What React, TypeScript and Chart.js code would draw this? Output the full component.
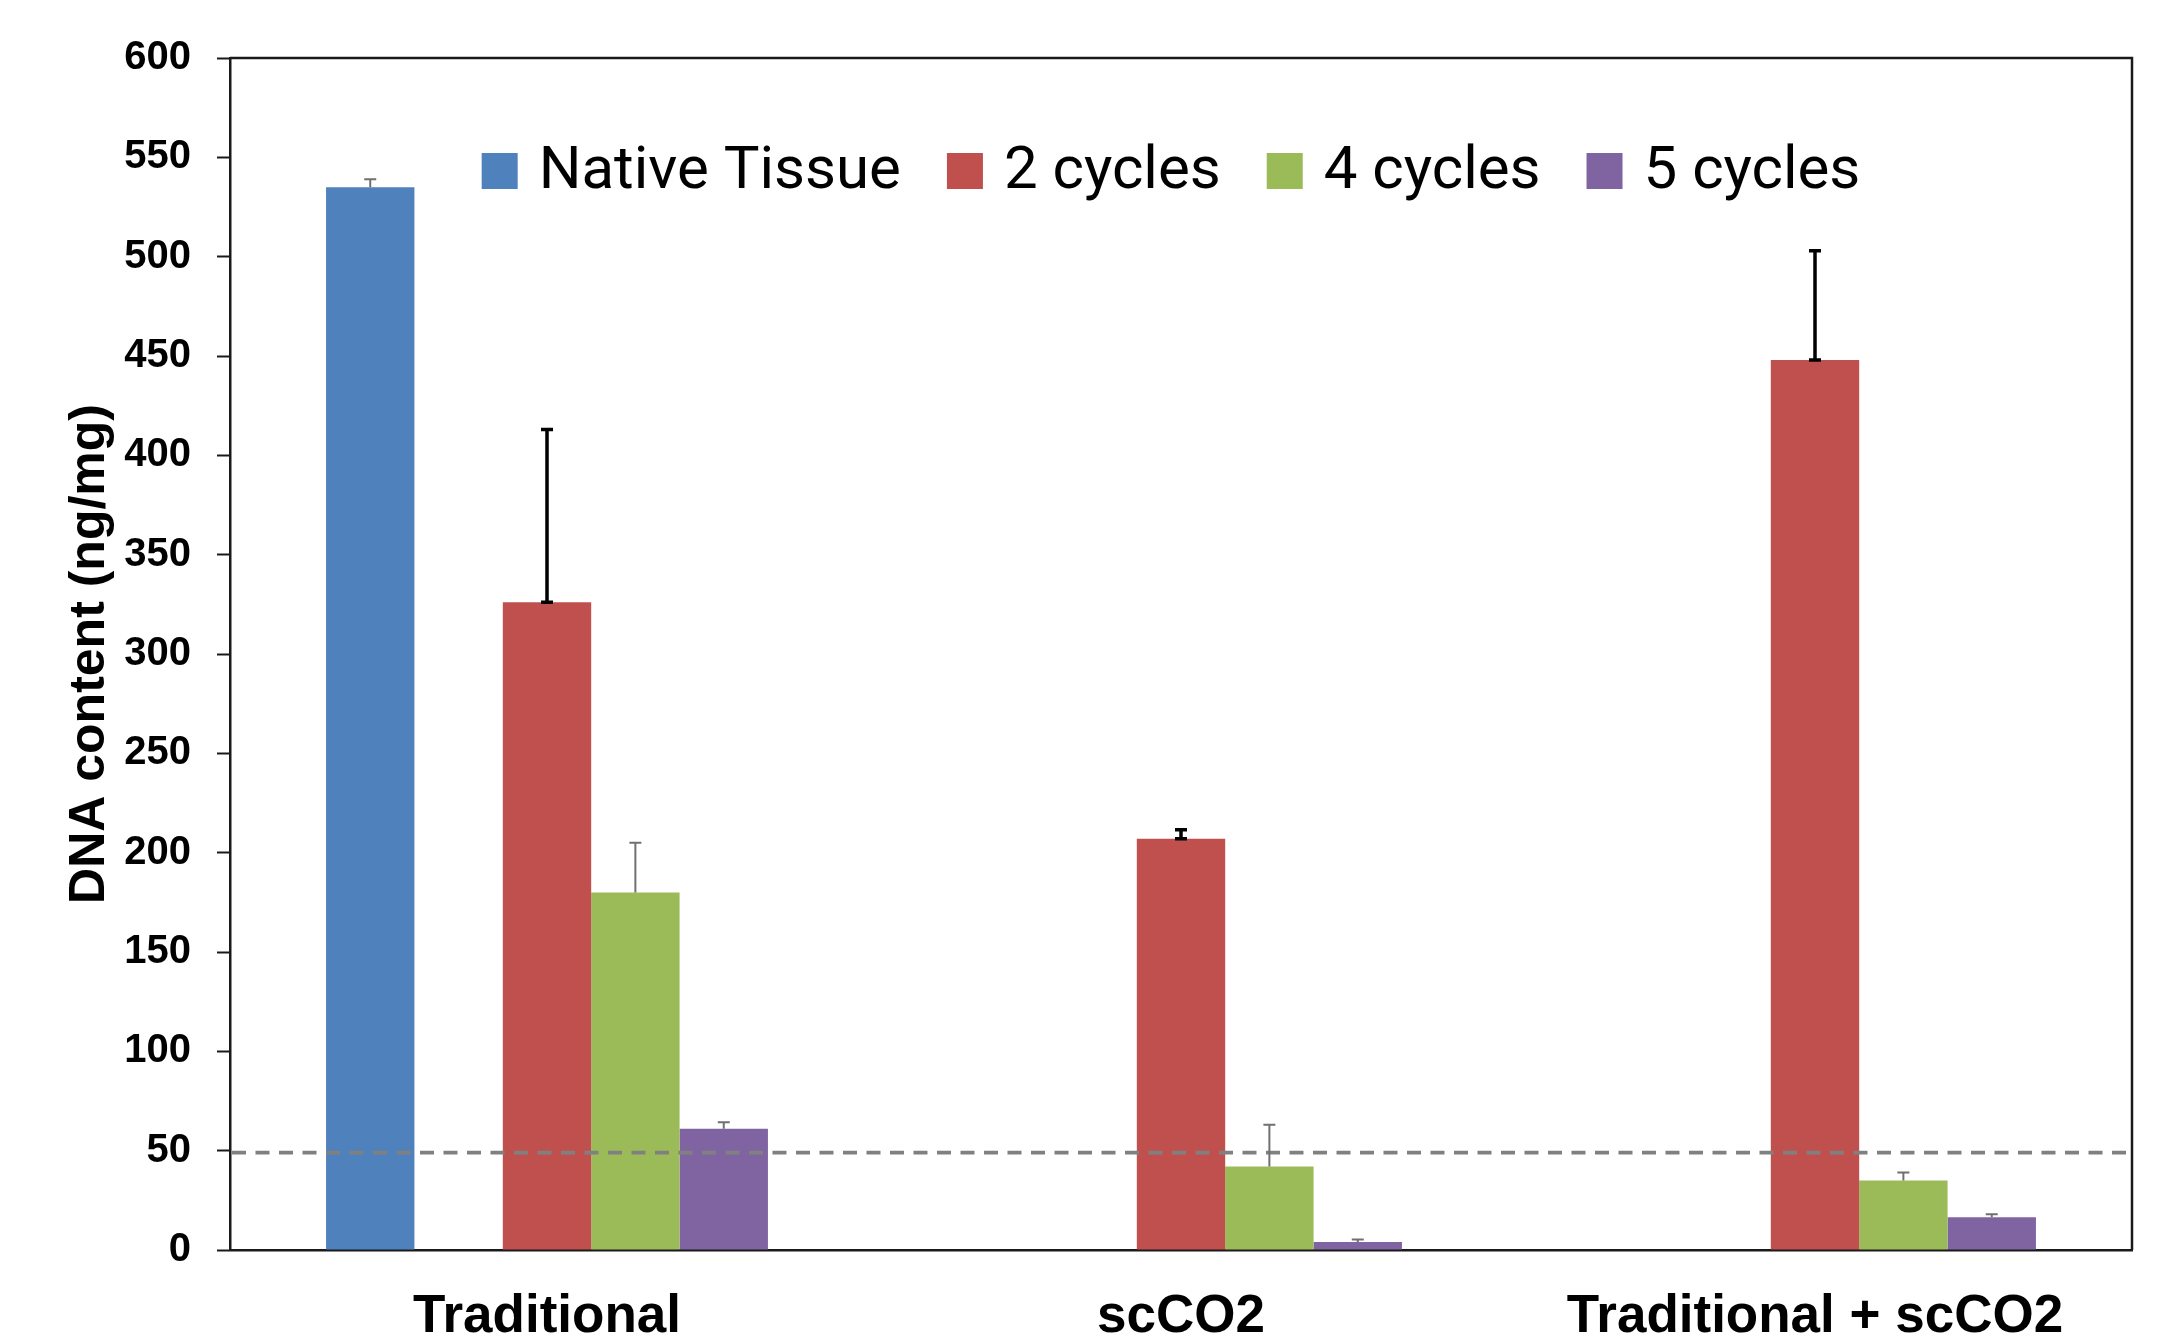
import { useEffect, useRef } from 'react';
import { Chart, registerables } from 'chart.js';

Chart.register(...registerables);

// ---- data ----
const categories = ['Traditional', 'scCO2', 'Traditional + scCO2'];
const seriesNames = ['Native Tissue', '2 cycles', '4 cycles', '5 cycles'];
const nativeTissue = [535, null, null];
const nativeTissueErr = [4, 0, 0];
const cycles2 = [326, 207, 448];
const cycles2Err = [87, 4.5, 55];
const cycles4 = [180, 42, 35];
const cycles4Err = [25, 21, 4];
const cycles5 = [61, 4, 16.5];
const cycles5Err = [3.3, 1.3, 1.5];
const thresholdValue = 49;
const yMin = 0;
const yMax = 600;
const yStep = 50;
const yTitle = 'DNA content (ng/mg)';

const colors = ['#4F81BD', '#C0504D', '#9BBB59', '#8064A2'];

const W = 2173;
const H = 1335;

const framePlugin = {
  id: 'frame',
  afterDraw(chart: any) {
    const { ctx, chartArea } = chart;
    ctx.save();
    ctx.strokeStyle = '#1a1a1a';
    ctx.lineWidth = 2.5;
    ctx.beginPath();
    ctx.moveTo(chartArea.left, chartArea.top);
    ctx.lineTo(chartArea.right, chartArea.top);
    ctx.lineTo(chartArea.right, chartArea.bottom);
    ctx.stroke();
    ctx.restore();
  },
};

// legend drawn inside the plot area, on top of the bars
const innerLegendPlugin = {
  id: 'innerLegend',
  afterDatasetsDraw(chart: any) {
    const { ctx, chartArea } = chart;
    const items = chart.data.datasets.filter((ds: any) => ds.label);
    const box = 36;
    const gapText = 21;
    const gapItem = 46;
    const font = '60px Roboto';
    ctx.save();
    ctx.font = font;
    const widths = items.map((ds: any) => ctx.measureText(ds.label).width);
    let total = 0;
    widths.forEach((w: number, i: number) => {
      total += box + gapText + w + (i < widths.length - 1 ? gapItem : 0);
    });
    const cx = (chartArea.left + chartArea.right) / 2 - 10;
    let x = cx - total / 2;
    const cy = chartArea.top + 113;
    ctx.textBaseline = 'middle';
    ctx.textAlign = 'left';
    items.forEach((ds: any, i: number) => {
      ctx.fillStyle = ds.backgroundColor;
      ctx.fillRect(x, cy - box / 2, box, box);
      x += box + gapText;
      ctx.fillStyle = '#000000';
      ctx.fillText(ds.label, x, cy + 2);
      x += widths[i] + gapItem;
    });
    ctx.restore();
  },
};

const overlayPlugin = {
  id: 'overlay',
  afterDatasetsDraw(chart: any) {
    const { ctx, chartArea } = chart;
    const yScale = chart.scales.y;
    // dashed threshold line
    const ty = yScale.getPixelForValue(thresholdValue);
    ctx.save();
    ctx.strokeStyle = '#808080';
    ctx.lineWidth = 3.7;
    ctx.setLineDash([14, 9.5]);
    ctx.beginPath();
    ctx.moveTo(chartArea.left + 2, ty);
    ctx.lineTo(chartArea.right, ty);
    ctx.stroke();
    ctx.restore();

    // error bars
    chart.data.datasets.forEach((ds: any, i: number) => {
      if (!ds.errors) return;
      const meta = chart.getDatasetMeta(i);
      meta.data.forEach((bar: any, j: number) => {
        const v = ds.data[j];
        const e = ds.errors[j];
        if (v == null || !e) return;
        const x = bar.x;
        const y0 = yScale.getPixelForValue(v);
        const y1 = yScale.getPixelForValue(v + e);
        const half = 6;
        ctx.save();
        ctx.strokeStyle = ds.errColor;
        ctx.lineWidth = ds.errWidth;
        ctx.beginPath();
        ctx.moveTo(x, y0);
        ctx.lineTo(x, y1);
        ctx.moveTo(x - half, y1);
        ctx.lineTo(x + half, y1);
        if (ds.errBothCaps) {
          ctx.moveTo(x - half, y0);
          ctx.lineTo(x + half, y0);
        }
        ctx.stroke();
        ctx.restore();
      });
    });
  },
};

export default function App() {
  const ref = useRef<HTMLCanvasElement | null>(null);

  useEffect(() => {
    document.body.style.margin = '0';
    const canvas = ref.current;
    if (!canvas) return;
    const chart = new Chart(canvas, {
      type: 'bar',
      data: {
        labels: categories,
        datasets: [
          {
            label: seriesNames[0],
            data: nativeTissue,
            backgroundColor: colors[0],
            borderWidth: 0,
            errors: nativeTissueErr,
            errColor: '#707070',
            errWidth: 2,
            errBothCaps: false,
          } as any,
          {
            label: '',
            data: [null, null, null],
            backgroundColor: 'rgba(0,0,0,0)',
            borderWidth: 0,
          } as any,
          {
            label: seriesNames[1],
            data: cycles2,
            backgroundColor: colors[1],
            borderWidth: 0,
            errors: cycles2Err,
            errColor: '#000000',
            errWidth: 3.5,
            errBothCaps: true,
          } as any,
          {
            label: seriesNames[2],
            data: cycles4,
            backgroundColor: colors[2],
            borderWidth: 0,
            errors: cycles4Err,
            errColor: '#707070',
            errWidth: 2,
            errBothCaps: false,
          } as any,
          {
            label: seriesNames[3],
            data: cycles5,
            backgroundColor: colors[3],
            borderWidth: 0,
            errors: cycles5Err,
            errColor: '#707070',
            errWidth: 2,
            errBothCaps: false,
          } as any,
        ],
      },
      options: {
        responsive: false,
        animation: false,
        events: [],
        layout: { padding: { left: 0, right: 41, top: 58, bottom: 0 } },
        datasets: {
          bar: { categoryPercentage: 0.697, barPercentage: 1.0 },
        },
        plugins: {
          tooltip: { enabled: false },
          legend: { display: false },
        },
        scales: {
          x: {
            grid: { display: false },
            border: { display: true, color: '#1a1a1a', width: 2.5 },
            ticks: {
              color: '#000000',
              padding: 28,
              font: { family: 'Liberation Sans, Arial, sans-serif', size: 53, weight: 'bold' },
            },
            afterFit: (scale: any) => {
              scale.height = 85;
            },
          },
          y: {
            min: yMin,
            max: yMax,
            ticks: {
              stepSize: yStep,
              color: '#000000',
              padding: 26,
              font: { family: 'Liberation Sans, Arial, sans-serif', size: 40, weight: 'bold' },
            },
            grid: {
              drawOnChartArea: false,
              drawTicks: true,
              tickLength: 13,
              tickColor: '#1a1a1a',
              tickWidth: 2,
            },
            border: { display: true, color: '#1a1a1a', width: 2.5 },
            title: {
              display: true,
              text: yTitle,
              color: '#000000',
              padding: { top: 60, bottom: 0 },
              font: { family: 'Liberation Sans, Arial, sans-serif', size: 50, weight: 'bold' },
            },
            afterFit: (scale: any) => {
              scale.width = 230;
            },
          },
        },
      } as any,
      plugins: [overlayPlugin, innerLegendPlugin, framePlugin],
    });
    return () => chart.destroy();
  }, []);

  return (
    <div style={{ width: W, height: H, background: '#ffffff' }}>
      <canvas ref={ref} width={W} height={H} style={{ display: 'block', width: W, height: H }} />
    </div>
  );
}
